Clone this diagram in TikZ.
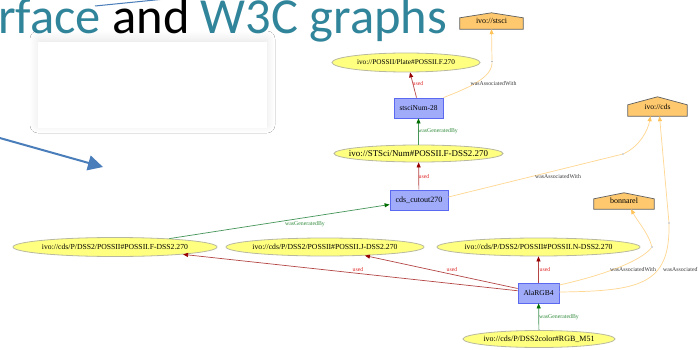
\documentclass[tikz,border=0pt]{standalone}
\usepackage{fontspec}
\setmainfont{Liberation Serif}
\newfontfamily\titlefont{Carlito}
\usetikzlibrary{arrows.meta,shadows.blur,backgrounds,shapes.geometric}

\definecolor{titleteal}{RGB}{49,133,155}
\definecolor{ellfill}{RGB}{255,255,128}
\definecolor{elldraw}{RGB}{185,185,160}
\definecolor{boxfill}{RGB}{160,172,250}
\definecolor{boxdraw}{RGB}{90,105,240}
\definecolor{housefill}{RGB}{253,200,110}
\definecolor{housedraw}{RGB}{95,95,95}
\definecolor{usedline}{RGB}{180,70,70}
\definecolor{usedtip}{RGB}{150,0,0}
\definecolor{usedtext}{RGB}{225,40,40}
\definecolor{genline}{RGB}{70,150,90}
\definecolor{gentip}{RGB}{0,110,0}
\definecolor{gentext}{RGB}{50,140,60}
\definecolor{assocline}{RGB}{255,215,145}
\definecolor{assoctip}{RGB}{255,195,90}
\definecolor{assoctext}{RGB}{60,60,60}
\definecolor{pptblue}{RGB}{74,126,187}

\newcommand\fitw[2]{\makebox[10pt]{\resizebox{#1}{!}{#2}}}
\newcommand\housepath[2]{\filldraw[housestyle] (#1.south west) -- (#1.south east) -- ([yshift=-#2]#1.north east) -- (#1.north) -- ([yshift=-#2]#1.north west) -- cycle;}

\tikzset{
  ell/.style={ellipse, draw=elldraw, fill=ellfill, line width=0.8pt, inner sep=0pt, font=\fontsize{7.6}{8}\selectfont},
  gbox/.style={rectangle, draw=boxdraw, fill=boxfill, line width=0.8pt, inner sep=0pt, minimum height=20pt},
  housenode/.style={rectangle, draw=none, inner sep=0pt},
  housestyle/.style={draw=housedraw, fill=housefill, line width=0.7pt},
  waypt/.style={circle, fill=gray!60, inner sep=0pt, minimum size=1.8pt},
  usededge/.style={draw=usedline, line width=0.7pt, -{Triangle[length=5pt,width=4pt,color=usedtip]}},
  genedge/.style={draw=genline, line width=0.7pt, -{Triangle[length=5pt,width=4pt,color=gentip]}},
  assocplain/.style={draw=assocline, line width=0.7pt},
  assocedge/.style={draw=assocline, line width=0.7pt, -{Triangle[length=5pt,width=4pt,color=assoctip]}},
  lbl/.style={inner sep=0pt, font=\fontsize{5.8}{6}\selectfont},
  usedlbl/.style={lbl, text=usedtext},
  genlbl/.style={lbl, text=gentext},
  assoclbl/.style={lbl, text=assoctext}
}

\begin{document}
\begin{tikzpicture}[x=1pt,y=-1pt]
\useasboundingbox (0,0) rectangle (698,350);

% title
\node[anchor=base west, inner sep=0pt, font=\titlefont\fontsize{50.5}{54}\selectfont] (title) at (-2,34)
  {\textcolor{titleteal}{rface} and \textcolor{titleteal}{W3C graphs}};

% thin blue line at top
\coordinate (bl1) at (95,6);
\coordinate (bl2) at (160,-0.5);
\draw[pptblue, line width=1pt] (bl1) -- (bl2);

% white panel with soft shadow
\node[fill=white, inner sep=0pt, minimum width=229pt, minimum height=86pt,
      blur shadow={shadow xshift=0pt, shadow yshift=3pt, shadow blur radius=8pt, shadow blur steps=12, shadow opacity=10}] (panel) at (152.5,85) {};

% big blue arrow
\coordinate (bastart) at (-2,137.5);
\coordinate (batip) at (103,167);
\draw[pptblue, line width=2pt, -{Triangle[length=15pt,width=15pt]}] (bastart) -- (batip);

% graph nodes
\node[ell, minimum width=148pt, minimum height=19pt] (plate) at (406,62.5) {\fitw{98pt}{ivo://POSSII/Plate\#POSSII.F.270}};
\node[ell, minimum width=169pt, minimum height=17pt] (stnum) at (418.5,153.5) {\fitw{139pt}{ivo://STSci/Num\#POSSII.F-DSS2.270}};
\node[ell, minimum width=204pt, minimum height=19pt] (ellF) at (115,247) {\fitw{146pt}{ivo://cds/P/DSS2/POSSII\#POSSII.F-DSS2.270}};
\node[ell, minimum width=198pt, minimum height=18pt] (ellJ) at (325,247) {\fitw{145pt}{ivo://cds/P/DSS2/POSSII\#POSSII.J-DSS2.270}};
\node[ell, minimum width=203pt, minimum height=18pt] (ellN) at (538.5,247) {\fitw{148pt}{ivo://cds/P/DSS2/POSSII\#POSSII.N-DSS2.270}};
\node[ell, minimum width=152pt, minimum height=17pt] (m51) at (539,339) {\fitw{111pt}{ivo://cds/P/DSS2color\#RGB\_M51}};

\node[gbox, minimum width=49pt] (stsciNum) at (418.5,108) {\fitw{38pt}{stsciNum-28}};
\node[gbox, minimum width=58pt] (cutout) at (419,200) {\fitw{47pt}{cds\_cutout270}};
\node[gbox, minimum width=41pt] (ala) at (538.5,293) {\fitw{30pt}{AlaRGB4}};

\node[housenode, minimum width=63pt, minimum height=16pt] (stsci) at (491.5,21) {\fitw{31pt}{ivo://stsci}};
\node[housenode, minimum width=59pt, minimum height=19pt] (cds) at (657.5,106.5) {\fitw{26pt}{ivo://cds}};
\node[housenode, minimum width=60pt, minimum height=16pt] (bonnarel) at (624,201) {\fitw{28pt}{bonnarel}};
\begin{scope}[on background layer]
  \fill[white] (0,0) rectangle (698,350);
  \housepath{stsci}{5pt}
  \housepath{cds}{8pt}
  \housepath{bonnarel}{6pt}
\end{scope}

% waypoints
\node[waypt] (p1) at (492,61.5) {};
\node[waypt] (p2) at (623,154) {};
\node[waypt] (p3) at (652,247) {};
\node[waypt] (p4) at (669,223) {};

% edges
\draw[usededge] ([xshift=-2pt]stsciNum.north) -- ([xshift=4pt]plate.south);
\node[usedlbl] (lu1) at (418,84) {used};

\draw[assocplain] (stsciNum.north east) .. controls (468,88) and (492,78) .. (p1);
\draw[assocedge] (p1) -- (stsci.south);
\node[assoclbl] (la1) at (493.5,84) {wasAssociatedWith};

\draw[genedge] (stnum) -- (stsciNum);
\node[genlbl] (lg1) at (438,131) {wasGeneratedBy};

\draw[usededge] (cutout) -- (stnum);
\node[usedlbl] (lu2) at (424,177) {used};

\draw[assocplain] ([yshift=3pt]cutout.east) -- (p2);
\draw[assocedge] (p2) .. controls (640,146) and (648,130) .. ([xshift=-7pt]cds.south);
\node[assoclbl] (la2) at (558,177) {wasAssociatedWith};

\draw[genedge] (ellF) -- (cutout);
\node[genlbl] (lg2) at (305,224) {wasGeneratedBy};

\draw[usededge] (ala) -- (ellF);
\node[usedlbl] (lu3) at (358,270) {used};
\draw[usededge] (ala) -- (ellJ);
\node[usedlbl] (lu4) at (452,270) {used};
\draw[usededge] (ala) -- (ellN);
\node[usedlbl] (lu5) at (545,270) {used};

\draw[genedge] (m51) -- (ala);
\node[genlbl] (lg3) at (559,317) {wasGeneratedBy};

\draw[assocplain] ([yshift=8pt]ala.east) .. controls (600,276) and (640,262) .. (p3);
\draw[assocedge] (p3) .. controls (648,233) and (638,222) .. ([xshift=7pt]bonnarel.south);
\node[assoclbl] (la3) at (633,270) {wasAssociatedWith};

\draw[assocplain] ([yshift=1pt]ala.east) .. controls (640,291) and (670,285) .. (p4);
\draw[assocedge] (p4) -- ([xshift=2pt]cds.south);
\node[assoclbl] (la4) at (686,270) {wasAssociatedWith};
\end{tikzpicture}
\end{document}
